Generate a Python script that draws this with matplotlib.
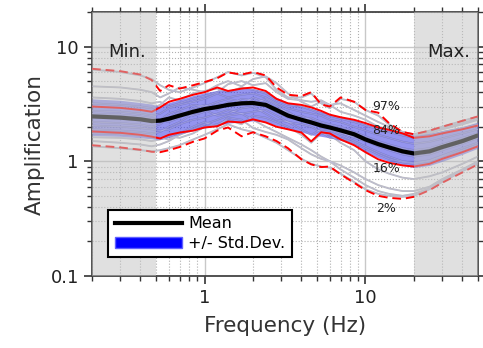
import matplotlib
matplotlib.use("Agg")
import matplotlib.pyplot as plt
import matplotlib.ticker as mticker
from matplotlib.lines import Line2D
from matplotlib.patches import Patch

freq = [0.2, 0.3, 0.4, 0.47, 0.53, 0.6, 0.7, 0.85, 1.0, 1.2, 1.4, 1.7, 2.0, 2.4, 2.8, 3.3,
        4.0, 4.6, 5.3, 6.0, 7.0, 8.5, 10, 12, 14, 17, 20, 25, 30, 40, 50]

mean = [2.46, 2.40, 2.32, 2.24, 2.26, 2.35, 2.5, 2.7, 2.85, 2.97, 3.1, 3.2, 3.22, 3.1, 2.8, 2.5,
        2.3, 2.18, 2.05, 1.97, 1.86, 1.72, 1.55, 1.41, 1.32, 1.22, 1.17, 1.22, 1.33, 1.5, 1.68]
p84 = [3.0, 2.92, 2.8, 2.7, 2.95, 3.3, 3.5, 3.8, 4.0, 4.4, 4.1, 4.3, 4.4, 4.1, 3.5, 3.2,
       3.1, 2.95, 2.75, 2.55, 2.42, 2.3, 2.15, 1.97, 1.88, 1.75, 1.6, 1.65, 1.75, 1.9, 2.05]
p16 = [1.82, 1.77, 1.7, 1.64, 1.58, 1.7, 1.78, 1.85, 1.97, 2.02, 2.22, 2.18, 2.32, 2.18, 2.0, 1.9,
       1.78, 1.49, 1.79, 1.75, 1.55, 1.38, 1.2, 1.04, 0.97, 0.92, 0.9, 0.95, 1.05, 1.2, 1.35]
p97 = [6.4, 6.1, 5.7, 5.1, 4.1, 4.6, 4.3, 4.6, 4.9, 5.3, 5.95, 5.7, 6.0, 5.6, 4.4, 3.8,
       3.7, 4.0, 3.13, 3.0, 3.6, 3.3, 2.8, 2.65, 2.15, 1.8, 1.72, 1.85, 2.0, 2.25, 2.46]
p2 = [1.38, 1.32, 1.26, 1.21, 1.2, 1.25, 1.33, 1.48, 1.58, 1.85, 1.97, 1.65, 1.79, 1.65, 1.5, 1.3,
      1.04, 0.94, 0.89, 0.9, 0.77, 0.65, 0.56, 0.5, 0.48, 0.47, 0.49, 0.56, 0.65, 0.8, 0.94]
std_hi = [3.5, 3.4, 3.25, 3.15, 3.0, 3.25, 3.45, 3.75, 3.95, 4.15, 4.2, 4.3, 4.3, 4.05, 3.6, 3.25,
          3.05, 2.9, 2.72, 2.58, 2.45, 2.3, 2.12, 1.97, 1.87, 1.75, 1.68, 1.75, 1.85, 2.0, 2.2]
std_lo = [1.68, 1.65, 1.6, 1.57, 1.55, 1.62, 1.72, 1.85, 1.95, 2.05, 2.15, 2.2, 2.25, 2.2, 2.05, 1.92,
          1.8, 1.7, 1.65, 1.6, 1.52, 1.4, 1.22, 1.07, 1.0, 0.93, 0.88, 0.92, 1.0, 1.15, 1.3]

curve_a = [6.3, 6.0, 5.6, 5.2, 4.6, 4.2, 4.0, 4.4, 4.8, 5.4, 6.0, 5.6, 5.9, 5.4, 4.2, 3.6, 3.6, 3.9, 3.2, 2.9, 3.5, 3.3, 2.8, 2.5, 2.1, 1.8, 1.72, 1.85, 2.0, 2.25, 2.45]
curve_b = [4.5, 4.4, 4.2, 4.0, 3.6, 3.9, 4.4, 4.2, 4.0, 4.6, 5.0, 4.5, 5.2, 5.5, 4.8, 3.9, 3.3, 3.0, 3.3, 3.1, 2.7, 2.5, 2.3, 2.0, 1.9, 1.75, 1.65, 1.75, 1.9, 2.1, 2.3]
curve_c = [1.35, 1.3, 1.25, 1.22, 1.25, 1.3, 1.38, 1.55, 1.7, 1.9, 2.1, 1.9, 1.8, 1.6, 1.45, 1.25, 1.05, 0.95, 0.9, 0.88, 0.78, 0.66, 0.57, 0.52, 0.5, 0.49, 0.5, 0.57, 0.66, 0.82, 0.95]
curve_d = [1.5, 1.45, 1.4, 1.35, 1.4, 1.5, 1.7, 1.9, 2.1, 2.3, 2.5, 2.6, 2.3, 2.0, 1.8, 1.6, 1.4, 1.25, 1.1, 1.0, 0.92, 0.8, 0.7, 0.62, 0.58, 0.55, 0.55, 0.6, 0.7, 0.85, 1.0]
curve_e = [1.62, 1.6, 1.55, 1.5, 1.55, 1.65, 1.6, 1.75, 2.0, 2.1, 2.3, 2.1, 2.5, 2.4, 2.2, 2.0, 1.7, 1.45, 1.75, 1.7, 1.45, 1.25, 1.0, 0.85, 0.78, 0.72, 0.7, 0.74, 0.8, 0.95, 1.1]
curve_f = [1.9, 1.85, 1.8, 1.75, 1.8, 2.0, 2.2, 2.6, 2.8, 2.5, 2.6, 2.9, 3.0, 2.6, 2.3, 2.2, 2.1, 2.0, 1.8, 1.6, 1.6, 1.45, 1.3, 1.15, 1.05, 0.98, 0.95, 1.0, 1.1, 1.25, 1.4]
curve_g = [2.2, 2.15, 2.08, 2.0, 2.1, 2.4, 2.7, 2.5, 2.7, 3.2, 3.0, 3.5, 3.4, 3.0, 2.7, 2.4, 2.5, 2.3, 2.1, 2.0, 1.8, 1.6, 1.5, 1.35, 1.25, 1.15, 1.1, 1.15, 1.25, 1.42, 1.6]
curve_h = [2.45, 2.4, 2.3, 2.22, 2.3, 2.2, 2.4, 2.9, 3.1, 2.8, 3.3, 3.1, 3.6, 3.3, 2.9, 2.7, 2.3, 2.4, 2.2, 2.1, 2.0, 1.8, 1.65, 1.5, 1.4, 1.3, 1.25, 1.3, 1.4, 1.6, 1.75]
curve_i = [2.75, 2.7, 2.6, 2.5, 2.6, 2.9, 3.1, 3.3, 3.5, 3.9, 3.6, 3.8, 3.9, 3.6, 3.2, 2.9, 2.7, 2.6, 2.5, 2.3, 2.2, 2.0, 1.85, 1.7, 1.6, 1.48, 1.42, 1.48, 1.58, 1.75, 1.9]
curve_j = [3.2, 3.1, 3.0, 2.9, 3.1, 3.6, 3.4, 3.9, 4.1, 4.3, 4.0, 4.4, 4.2, 3.9, 3.4, 3.1, 3.0, 2.8, 2.6, 2.5, 2.35, 2.2, 2.05, 1.9, 1.8, 1.68, 1.6, 1.68, 1.8, 1.95, 2.1]
curve_k = [3.6, 3.5, 3.35, 3.2, 3.3, 3.0, 3.2, 3.5, 3.7, 4.0, 4.7, 5.0, 4.6, 4.8, 4.0, 3.5, 3.4, 3.3, 3.4, 3.1, 3.2, 2.8, 2.5, 2.2, 2.0, 1.8, 1.7, 1.78, 1.95, 2.15, 2.35]
curve_l = [2.05, 2.0, 1.95, 1.9, 1.85, 1.9, 2.1, 2.3, 2.4, 2.6, 2.8, 2.6, 2.7, 2.8, 2.5, 2.2, 1.9, 1.7, 1.9, 1.85, 1.7, 1.5, 1.35, 1.2, 1.1, 1.0, 0.97, 1.02, 1.12, 1.3, 1.45]
curve_m = [1.75, 1.72, 1.68, 1.62, 1.6, 1.55, 1.75, 2.0, 2.2, 2.0, 2.4, 2.3, 1.95, 1.8, 1.7, 1.55, 1.3, 1.15, 1.05, 1.0, 0.85, 0.72, 0.62, 0.55, 0.52, 0.5, 0.52, 0.58, 0.68, 0.83, 0.98]
curve_n = [2.6, 2.55, 2.45, 2.38, 2.3, 2.6, 2.8, 3.1, 3.0, 3.3, 3.5, 3.3, 3.2, 3.5, 3.1, 2.6, 2.4, 2.2, 2.0, 1.9, 1.75, 1.65, 1.6, 1.45, 1.35, 1.28, 1.2, 1.25, 1.35, 1.55, 1.7]

curves = [curve_a, curve_b, curve_c, curve_d, curve_e, curve_f, curve_g,
          curve_h, curve_i, curve_j, curve_k, curve_l, curve_m, curve_n]

fmin, fmax = 0.5, 20

fig = plt.figure(figsize=(4.83, 3.48), dpi=100)
ax = fig.add_axes([0.1905, 0.2069, 0.7991, 0.7586])

for c in curves:
    ax.plot(freq, c, color='#b4b4b4', lw=1.3, zorder=2)
ax.fill_between(freq, std_lo, std_hi, color='#2a2ae0', alpha=0.5, lw=0, zorder=3)
for c in curves:
    ax.plot(freq, c, color='#c8c8f0', lw=0.9, alpha=0.45, zorder=3.5)
ax.plot(freq, p97, color='red', lw=1.4, ls=(0, (4.5, 2.5)), zorder=4)
ax.plot(freq, p2, color='red', lw=1.4, ls=(0, (4.5, 2.5)), zorder=4)
ax.plot(freq, p84, color='red', lw=1.4, zorder=4)
ax.plot(freq, p16, color='red', lw=1.4, zorder=4)
ax.plot(freq, mean, color='black', lw=3, zorder=5)

ax.axvspan(0.2, fmin, color='#c2c2c2', alpha=0.5, lw=0, zorder=6)
ax.axvspan(fmax, 50, color='#c2c2c2', alpha=0.5, lw=0, zorder=6)

ax.set_xscale('log')
ax.set_yscale('log')
ax.set_xlim(0.2, 50)
ax.set_ylim(0.1, 20)

fmt = mticker.FuncFormatter(lambda v, p: '%g' % v)
ax.xaxis.set_major_formatter(fmt)
ax.yaxis.set_major_formatter(fmt)
ax.xaxis.set_minor_formatter(mticker.NullFormatter())
ax.yaxis.set_minor_formatter(mticker.NullFormatter())

ax.grid(True, which='major', color='#c8c8c8', lw=1.0, ls='-', zorder=0)
ax.grid(True, which='minor', color='#b0b0b0', lw=0.8, ls=':', zorder=0)
ax.set_axisbelow(True)

ax.tick_params(which='both', direction='out', top=True, right=True, colors='#333333',
               labelsize=13, labelcolor='#222222')
ax.tick_params(which='major', length=6, width=1.2)
ax.tick_params(which='minor', length=3.5, width=1.0)
for s in ax.spines.values():
    s.set_color('#444444')
    s.set_linewidth(1.3)

ax.set_xlabel('Frequency (Hz)', fontsize=15.5, color='#333333', labelpad=6)
ax.set_ylabel('Amplification', fontsize=15.5, color='#333333', labelpad=4)

ax.text(0.041, 0.85, 'Min.', transform=ax.transAxes, fontsize=13, ha='left', va='center',
        color='#222222', zorder=8)
ax.text(0.979, 0.85, 'Max.', transform=ax.transAxes, fontsize=13, ha='right', va='center',
        color='#222222', zorder=8)

for lab, yv in [('97%', 3.0), ('84%', 1.85), ('16%', 0.87), ('2%', 0.39)]:
    ax.text(13.5, yv, lab, fontsize=9, ha='center', va='center', color='#222222', zorder=8)

handles = [Line2D([0], [0], color='black', lw=3),
           Patch(facecolor='blue', edgecolor='#6060ff')]
leg = ax.legend(handles, ['Mean', '+/- Std.Dev.'], loc='lower left',
                bbox_to_anchor=(0.022, 0.04), fontsize=11.5, handlelength=4.2,
                fancybox=False, framealpha=1, edgecolor='black', borderpad=0.4,
                labelspacing=0.3, handletextpad=0.4)
leg.get_frame().set_linewidth(1.5)
leg.set_zorder(9)

fig.savefig('out.png', dpi=100)
